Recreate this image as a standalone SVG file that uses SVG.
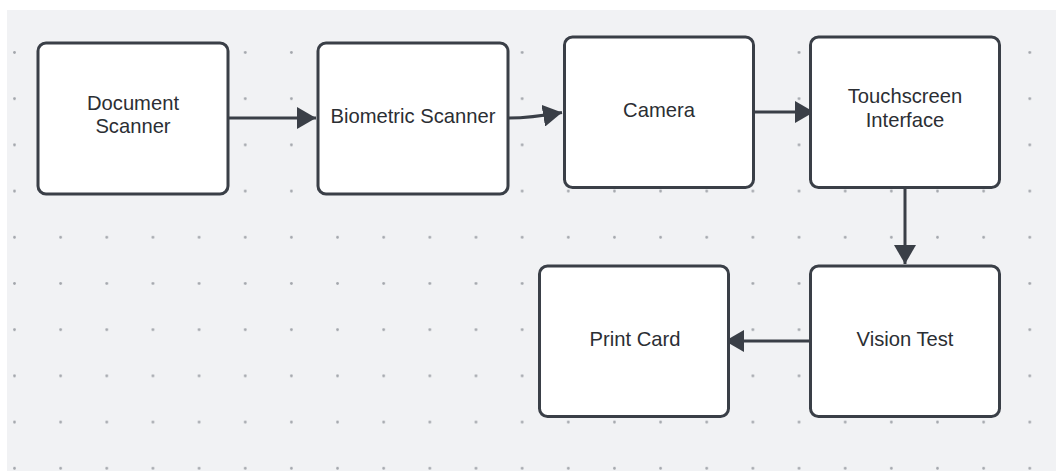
<svg xmlns="http://www.w3.org/2000/svg" width="1056" height="471" viewBox="0 0 1056 471">
  <style>
    .box { fill: #ffffff; stroke: #3a3f47; stroke-width: 3; }
    .label { font-family: "Liberation Sans", Arial, sans-serif; font-size: 20.2px; fill: #2b2e33; text-anchor: middle; }
    .wire { fill: none; stroke: #3a3f47; stroke-width: 3; }
  </style>
  <defs>
    <pattern id="dotGrid" patternUnits="userSpaceOnUse" x="-8.575" y="29.4" width="46.15" height="46.2">
      <circle cx="23.075" cy="23.1" r="1.4" fill="#a3a6ac"/>
    </pattern>
    <marker id="head" markerUnits="userSpaceOnUse" markerWidth="20" markerHeight="22" refX="19" refY="11" orient="auto">
      <path d="M0,0 L19,11 L0,22 Z" fill="#3a3f47"/>
    </marker>
  </defs>

  <!-- canvas -->
  <rect x="0" y="0" width="1056" height="471" fill="#ffffff"/>
  <rect x="7" y="10" width="1049" height="461" fill="#f1f2f4"/>
  <rect x="7" y="10" width="1049" height="461" fill="url(#dotGrid)"/>

  <!-- connectors -->
  <g id="connectors">
    <path class="wire" d="M229,118 L316,118" marker-end="url(#head)"/>
    <path class="wire" d="M509,118 Q530,118 562,112.5" marker-end="url(#head)"/>
    <path class="wire" d="M754,112 L814,112" marker-end="url(#head)"/>
    <path class="wire" d="M905,188 L905,264" marker-end="url(#head)"/>
    <path class="wire" d="M810,341 L725,341" marker-end="url(#head)"/>
  </g>

  <g id="document-scanner">
    <rect class="box" x="38" y="43" width="190" height="151" rx="8"/>
    <text class="label" x="133" y="110">Document</text>
    <text class="label" x="133" y="133">Scanner</text>
  </g>

  <g id="biometric-scanner">
    <rect class="box" x="318" y="43" width="190" height="151" rx="8"/>
    <text class="label" x="413" y="122.5">Biometric Scanner</text>
  </g>

  <g id="camera">
    <rect class="box" x="564.5" y="37" width="189" height="150.5" rx="8"/>
    <text class="label" x="659" y="117">Camera</text>
  </g>

  <g id="touchscreen-interface">
    <rect class="box" x="810.5" y="37" width="189" height="150.5" rx="8"/>
    <text class="label" x="905" y="103">Touchscreen</text>
    <text class="label" x="905" y="127">Interface</text>
  </g>

  <g id="vision-test">
    <rect class="box" x="810.5" y="266" width="189" height="150.5" rx="8"/>
    <text class="label" x="905" y="346">Vision Test</text>
  </g>

  <g id="print-card">
    <rect class="box" x="539.5" y="266" width="189" height="150.5" rx="8"/>
    <text class="label" x="635" y="346">Print Card</text>
  </g>
</svg>
